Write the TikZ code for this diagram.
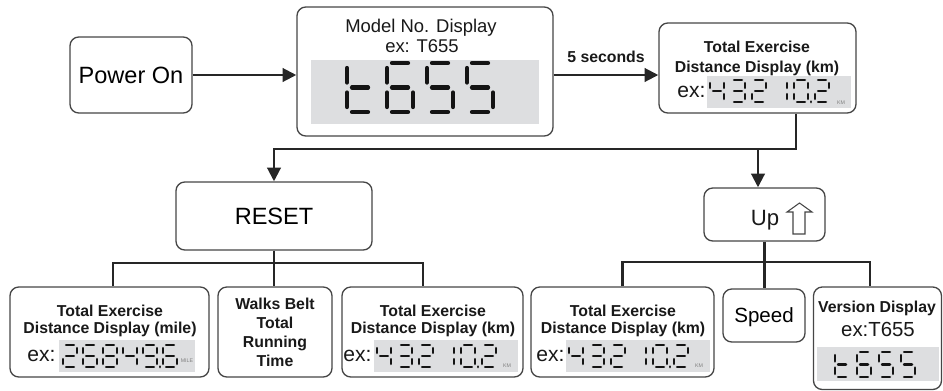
\documentclass[tikz,border=0pt]{standalone}
\usepackage{fontspec}
\setmainfont{Liberation Sans}
\usepackage{tikz}
\usetikzlibrary{arrows.meta,positioning,calc}

\definecolor{lcdgray}{RGB}{221,222,224}
\definecolor{lcdink}{RGB}{20,20,20}
\definecolor{boxline}{RGB}{70,70,70}
\definecolor{wire}{RGB}{38,38,38}

% seven-segment digits (segments a..g, p = decimal point)
\def\dzero{a,b,c,d,e,f}
\def\done{b,c}
\def\dtwo{a,b,g,e,d}
\def\dthree{a,b,g,c,d}
\def\dfour{f,g,b,c}
\def\dfive{a,f,g,c,d}
\def\dsix{a,f,g,e,c,d}
\def\deight{a,b,c,d,e,f,g}
\def\dnine{a,b,c,d,f,g}
\def\dtee{f,e,g,d}

% \lcdrow{x}{top}{pitch}{width}{height}{seg style}{digits}
\newcommand{\lcdrow}[7]{%
  \foreach \dig [count=\i from 0] in {#7} {
    \edef\seglist{\dig}
    \begin{scope}[shift={(#1+\i*#3,#2)}, xscale=#4, yscale=#5/2, #6]
      \foreach \s in \seglist {\draw[lcdseg, seg \s];}
    \end{scope}
  }
}

\begin{document}
\begin{tikzpicture}[
    x=0.02cm, y=-0.02cm,
    boxsize/.style 2 args={minimum width=#1*0.02cm, minimum height=#2*0.02cm},
    box/.style={rectangle, draw=boxline, line width=0.75pt, rounded corners=5pt, fill=white, inner sep=0pt},
    txt/.style={inner sep=0pt, text=black!90},
    title/.style={txt, font=\fontsize{10.5}{12.6}\selectfont},
    head/.style={txt, font=\bfseries\fontsize{9}{10.8}\selectfont},
    big/.style={font=\fontsize{13.4}{16}\selectfont},
    exlabel/.style={txt, font=\fontsize{12}{14}\selectfont},
    unit/.style={txt, font=\fontsize{3}{3.5}\selectfont, text=gray},
    wire/.style={draw=wire, line width=1.6pt},
    arrow/.style={wire, -{Triangle[length=7.8pt, width=7.6pt]}},
    lcdseg/.style={draw=lcdink, line cap=round},
    bigseg/.style={line width=2.3pt, shorten <=2.8pt, shorten >=2.8pt},
    smallseg/.style={line width=1.6pt, shorten <=1.8pt, shorten >=1.8pt},
    seg a/.style={insert path={(0,0)--(1,0)}},
    seg b/.style={insert path={(1,0)--(1,1)}},
    seg c/.style={insert path={(1,1)--(1,2)}},
    seg d/.style={insert path={(0,2)--(1,2)}},
    seg e/.style={insert path={(0,1)--(0,2)}},
    seg f/.style={insert path={(0,0)--(0,1)}},
    seg g/.style={insert path={(0,1)--(1,1)}},
    seg p/.style={shorten <=0pt, shorten >=0pt, insert path={(1.22,1.97)--(1.22,2)}}
]
    \useasboundingbox (0,0) rectangle (943,390);

    % --- TOP ROW ---
    \node[box, boxsize={122}{76}, big] (power) at (131,75) {Power On};

    \node[box, boxsize={256}{129}] (model) at (425,71.5) {};
    \node[title, anchor=base] (modeltitle) at (421,32) {Model No. Display};
    \node[title, anchor=base] (modelex) at (422,52) {ex: T655};
    \fill[lcdgray] (311,60) rectangle (539,124);
    \lcdrow{347}{63}{40}{26}{49}{bigseg}{\dtee,\dsix,\dfive,\dfive}

    \node[box, boxsize={197}{90}] (kmtop) at (757.5,68) {};
    \node[head, anchor=base] (kmtophead) at (757,52) {Total Exercise};
    \node[head, anchor=base] (kmtopsub) at (757,72) {Distance Display (km)};
    \node[exlabel, anchor=base west] (kmtopex) at (677,97) {ex:};
    \fill[lcdgray] (707,76) rectangle (851,108);
    \lcdrow{710}{80}{21}{14}{22}{smallseg}{\dfour,\dthree,\dtwo,\done,{\dzero,p},\dtwo}
    \node[unit] (kmtopunit) at (841,103) {KM};

    \draw[arrow] (power.east) -- (power.east -| model.west);
    \draw[arrow] (power.east -| model.east) -- node[head, above=6pt] (secs) {5 seconds} (power.east -| kmtop.west);

    % --- MIDDLE ROW ---
    \node[box, boxsize={196}{68}, big] (reset) at (274,216) {RESET};
    \node[box, boxsize={121}{53}] (up) at (764.5,214.5) {};
    \node[txt, anchor=base, font=\fontsize{12.6}{15}\selectfont] (uplabel) at (765,225) {Up};
    \draw[boxline, line width=0.6pt] (793,234) -- (793,212) -- (787,212) -- (799.5,203)
        -- (812,212) -- (805,212) -- (805,234) -- cycle;

    \coordinate (split) at (796,149);
    \coordinate (upin) at ($(up.north)+(-6.5,0)$);
    \draw[arrow] (kmtop.south -| split) -- (split) -| (reset.north);
    \draw[arrow] (split -| upin) -- (upin);

    % --- RESET BRANCH ---
    \node[box, boxsize={199}{90}] (mile) at (109.5,332) {};
    \node[head, anchor=base] (milehead) at (110,316) {Total Exercise};
    \node[head, anchor=base] (milesub) at (110,333) {Distance Display (mile)};
    \node[exlabel, anchor=base west] (mileex) at (27,361) {ex:};
    \fill[lcdgray] (59,340) rectangle (195,372);
    \lcdrow{63}{345}{20}{14}{22}{smallseg}{\dtwo,\dsix,\deight,\dfour,{\dnine,p},\dsix}
    \node[unit] (mileunit) at (187,361) {MILE};

    \node[box, boxsize={114}{90}, head, align=center] (walks) at (275,332) {Walks Belt\\Total\\Running\\Time};

    \node[box, boxsize={181}{90}] (kmreset) at (432.5,332) {};
    \node[head, anchor=base] (kmresethead) at (433,316) {Total Exercise};
    \node[head, anchor=base] (kmresetsub) at (433,333) {Distance Display (km)};
    \node[exlabel, anchor=base west] (kmresetex) at (343,361) {ex:};
    \fill[lcdgray] (374,340) rectangle (518,372);
    \lcdrow{377}{345}{21}{14}{22}{smallseg}{\dfour,\dthree,\dtwo,\done,{\dzero,p},\dtwo}
    \node[unit] (kmresetunit) at (507,366) {KM};

    \coordinate (rl) at (113,263);
    \coordinate (rr) at (423,263);
    \draw[wire] (reset.south) -- (reset.south |- walks.north);
    \draw[wire] (rl |- mile.north) -- (rl) -- (rr) -- (rr |- kmreset.north);

    % --- UP BRANCH ---
    \node[box, boxsize={183}{90}] (kmup) at (622.5,332) {};
    \node[head, anchor=base] (kmuphead) at (623,316) {Total Exercise};
    \node[head, anchor=base] (kmupsub) at (623,333) {Distance Display (km)};
    \node[exlabel, anchor=base west] (kmupex) at (536,361) {ex:};
    \fill[lcdgray] (566,340) rectangle (710,372);
    \lcdrow{569}{345}{21}{14}{22}{smallseg}{\dfour,\dthree,\dtwo,\done,{\dzero,p},\dtwo}
    \node[unit] (kmupunit) at (699,366) {KM};

    \node[box, boxsize={82}{53}, text depth=0pt, font=\fontsize{11.7}{14}\selectfont] (speed) at (764,315.5) {Speed};

    \node[box, boxsize={128}{102.5}] (version) at (877.5,338.25) {};
    \node[head, anchor=base] (versionhead) at (877,312) {Version Display};
    \node[txt, anchor=base, font=\fontsize{11.6}{14}\selectfont] (versionex) at (878,336) {ex:T655};
    \fill[lcdgray] (817,347) rectangle (939,381);
    \lcdrow{835}{352}{22}{14}{25}{smallseg}{\dtee,\dsix,\dfive,\dfive}

    \coordinate (ul) at (622.5,262);
    \coordinate (ur) at (870,262);
    \draw[wire] (up.south) -- (up.south |- speed.north);
    \draw[wire] (ul |- kmup.north) -- (ul) -- (ur) -- (ur |- version.north);

\end{tikzpicture}
\end{document}
